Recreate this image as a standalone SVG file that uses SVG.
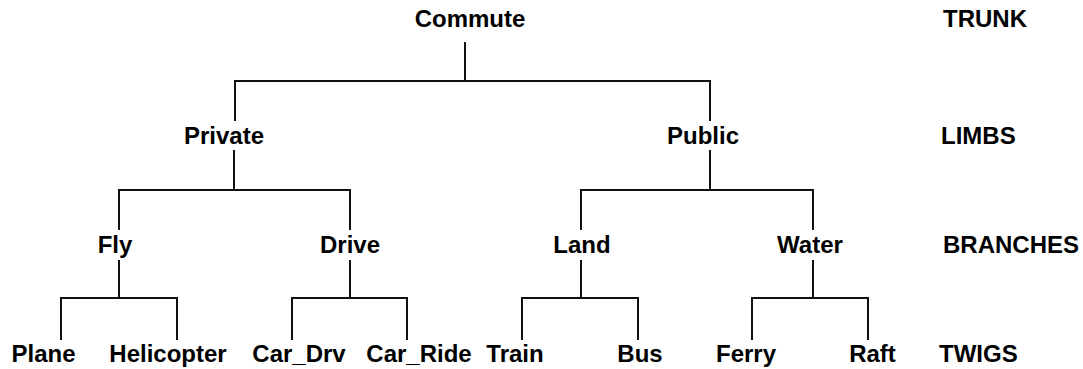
<svg xmlns="http://www.w3.org/2000/svg" width="1083" height="369" viewBox="0 0 1083 369">
<style>
text{font-family:"Liberation Sans",Arial,sans-serif;font-weight:bold;font-size:24px;fill:#000}
.n text{text-anchor:middle}
.lvl{text-anchor:start}
#connectors path{fill:none;stroke:#111;stroke-width:2}
</style>
<rect width="1083" height="369" fill="#fff"/>
<g id="connectors">
<path d="M465 42V81M235 121V81H710V121"/>
<path d="M234 150V190M119 230V190H350V230"/>
<path d="M710 150V190M581 230V190H813V230"/>
<path d="M119 260V298M61 340V298H177V340"/>
<path d="M350 260V298M292 340V298H407V340"/>
<path d="M581 260V298M522 340V298H638V340"/>
<path d="M813 260V298M752 340V298H868V340"/>
</g>
<g class="n" id="commute"><text x="470" y="27">Commute</text></g>
<g class="n" id="private"><text x="224" y="144">Private</text></g>
<g class="n" id="public"><text x="703" y="144">Public</text></g>
<g class="n" id="fly"><text x="115" y="253">Fly</text></g>
<g class="n" id="drive"><text x="350" y="253">Drive</text></g>
<g class="n" id="land"><text x="582" y="253">Land</text></g>
<g class="n" id="water"><text x="810" y="253">Water</text></g>
<g class="n" id="plane"><text x="43.5" y="362">Plane</text></g>
<g class="n" id="helicopter"><text x="168" y="362">Helicopter</text></g>
<g class="n" id="car_drv"><text x="299" y="362">Car_Drv</text></g>
<g class="n" id="car_ride"><text x="419" y="362">Car_Ride</text></g>
<g class="n" id="train"><text x="515" y="362">Train</text></g>
<g class="n" id="bus"><text x="640" y="362">Bus</text></g>
<g class="n" id="ferry"><text x="746" y="362">Ferry</text></g>
<g class="n" id="raft"><text x="872.5" y="362">Raft</text></g>
<g id="levels">
<text class="lvl" x="943" y="27">TRUNK</text>
<text class="lvl" x="941" y="144">LIMBS</text>
<text class="lvl" x="943" y="253">BRANCHES</text>
<text class="lvl" x="939" y="362">TWIGS</text>
</g>
</svg>
